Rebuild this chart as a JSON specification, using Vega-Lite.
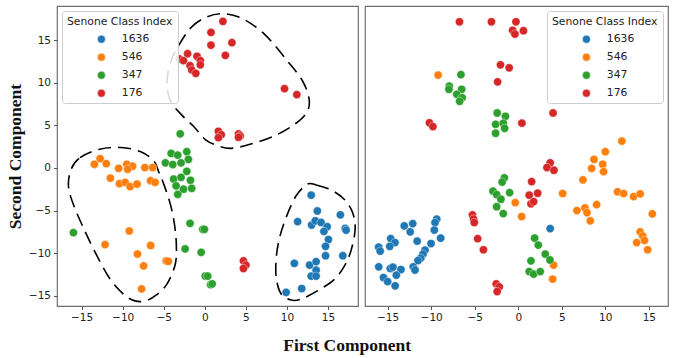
{
  "$schema": "https://vega.github.io/schema/vega-lite/v6.json",
  "padding": {"left": 5, "top": 5, "right": 10, "bottom": 5},
  "bounds": "flush",
  "spacing": 7,
  "background": "white",
  "config": {
    "view": {"stroke": "#707070", "strokeWidth": 1.2},
    "axis": {
      "labelFont": "DejaVu Sans", "labelFontSize": 10.5, "labelColor": "#222222",
      "tickColor": "#444444", "tickSize": 3.5, "tickWidth": 0.9, "domain": false, "grid": false,
      "labelPadding": 3,
      "titleFont": "Liberation Serif", "titleFontWeight": "bold", "titleFontSize": 17.5, "titleColor": "#111111"
    },
    "legend": {
      "padding": 5, "fillColor": "rgba(255,255,255,0.85)", "strokeColor": "#cccccc", "cornerRadius": 3,
      "titleFont": "DejaVu Sans", "titleFontSize": 10.8, "titleFontWeight": "normal", "titleColor": "#222222", "titlePadding": 7,
      "labelFont": "DejaVu Sans", "labelFontSize": 10.8, "labelColor": "#222222",
      "symbolSize": 62, "symbolOffset": 29, "labelOffset": 15, "rowPadding": 6,
      "symbolType": "circle", "symbolStrokeColor": "white", "symbolStrokeWidth": 0.4, "offset": 5
    }
  },
  "title": {"text": "First Component", "orient": "bottom", "anchor": "middle", "font": "Liberation Serif", "fontSize": 17.5, "fontWeight": "bold", "color": "#111111", "offset": 13, "dx": 10},
  "datasets": {
    "outline": [
      {"g": "a", "i": 1, "x": -16.3, "y": -0.2}, {"g": "a", "i": 2, "x": -15.2, "y": 1.2}, {"g": "a", "i": 3, "x": -12.8, "y": 2.2},
      {"g": "a", "i": 4, "x": -10.2, "y": 2.4}, {"g": "a", "i": 5, "x": -7.8, "y": 1.9}, {"g": "a", "i": 6, "x": -6.2, "y": 0.8},
      {"g": "a", "i": 7, "x": -5.6, "y": -0.5}, {"g": "a", "i": 8, "x": -5.0, "y": -1.9}, {"g": "a", "i": 9, "x": -4.2, "y": -4.25},
      {"g": "a", "i": 10, "x": -3.7, "y": -6.6}, {"g": "a", "i": 11, "x": -3.47, "y": -9.0}, {"g": "a", "i": 12, "x": -3.6, "y": -11.3},
      {"g": "a", "i": 13, "x": -4.6, "y": -13.6}, {"g": "a", "i": 14, "x": -5.9, "y": -14.9}, {"g": "a", "i": 15, "x": -7.2, "y": -15.6},
      {"g": "a", "i": 16, "x": -8.5, "y": -15.6}, {"g": "a", "i": 17, "x": -9.8, "y": -14.9}, {"g": "a", "i": 18, "x": -11.5, "y": -13.1},
      {"g": "a", "i": 19, "x": -13.3, "y": -10.0}, {"g": "a", "i": 20, "x": -14.8, "y": -7.0}, {"g": "a", "i": 21, "x": -16.0, "y": -4.3},
      {"g": "a", "i": 22, "x": -16.6, "y": -2.2},
      {"g": "b", "i": 1, "x": -3.1, "y": 14.5}, {"g": "b", "i": 2, "x": -1.7, "y": 16.45}, {"g": "b", "i": 3, "x": -0.05, "y": 17.6},
      {"g": "b", "i": 4, "x": 2.0, "y": 18.1}, {"g": "b", "i": 5, "x": 4.4, "y": 17.6}, {"g": "b", "i": 6, "x": 7.25, "y": 15.7},
      {"g": "b", "i": 7, "x": 10.1, "y": 12.5}, {"g": "b", "i": 8, "x": 11.9, "y": 10.2}, {"g": "b", "i": 9, "x": 12.7, "y": 8.05},
      {"g": "b", "i": 10, "x": 12.4, "y": 6.5}, {"g": "b", "i": 11, "x": 10.9, "y": 5.1}, {"g": "b", "i": 12, "x": 8.45, "y": 3.75},
      {"g": "b", "i": 13, "x": 5.6, "y": 2.8}, {"g": "b", "i": 14, "x": 3.2, "y": 2.3}, {"g": "b", "i": 15, "x": 1.6, "y": 2.6},
      {"g": "b", "i": 16, "x": 0.1, "y": 3.3}, {"g": "b", "i": 17, "x": -1.3, "y": 4.8}, {"g": "b", "i": 18, "x": -2.8, "y": 6.2},
      {"g": "b", "i": 19, "x": -4.2, "y": 7.9}, {"g": "b", "i": 20, "x": -4.6, "y": 10.2}, {"g": "b", "i": 21, "x": -4.1, "y": 12.6},
      {"g": "c", "i": 1, "x": 12.5, "y": -1.9}, {"g": "c", "i": 2, "x": 13.55, "y": -2.0}, {"g": "c", "i": 3, "x": 15.4, "y": -2.6},
      {"g": "c", "i": 4, "x": 17.0, "y": -3.7}, {"g": "c", "i": 5, "x": 18.0, "y": -5.25}, {"g": "c", "i": 6, "x": 18.3, "y": -7.2},
      {"g": "c", "i": 7, "x": 17.8, "y": -9.7}, {"g": "c", "i": 8, "x": 17.0, "y": -11.5}, {"g": "c", "i": 9, "x": 15.8, "y": -13.05},
      {"g": "c", "i": 10, "x": 13.75, "y": -14.4}, {"g": "c", "i": 11, "x": 11.7, "y": -15.4}, {"g": "c", "i": 12, "x": 10.5, "y": -15.5},
      {"g": "c", "i": 13, "x": 9.3, "y": -14.8}, {"g": "c", "i": 14, "x": 8.7, "y": -12.9}, {"g": "c", "i": 15, "x": 8.7, "y": -10.5},
      {"g": "c", "i": 16, "x": 9.1, "y": -8.2}, {"g": "c", "i": 17, "x": 9.9, "y": -5.8}, {"g": "c", "i": 18, "x": 11.1, "y": -3.3}
    ],
    "left": [
      {"c": "1636", "x": 12.95, "y": -3.2}, {"c": "1636", "x": 13.7, "y": -5.05}, {"c": "1636", "x": 11.3, "y": -6.3},
      {"c": "1636", "x": 13.0, "y": -6.7}, {"c": "1636", "x": 13.45, "y": -6.2}, {"c": "1636", "x": 14.15, "y": -6.4},
      {"c": "1636", "x": 14.9, "y": -6.9}, {"c": "1636", "x": 14.5, "y": -7.45}, {"c": "1636", "x": 16.5, "y": -5.5},
      {"c": "1636", "x": 17.1, "y": -7.1}, {"c": "1636", "x": 17.2, "y": -7.3}, {"c": "1636", "x": 15.05, "y": -8.4},
      {"c": "1636", "x": 14.7, "y": -9.2}, {"c": "1636", "x": 14.7, "y": -10.3}, {"c": "1636", "x": 16.8, "y": -10.3},
      {"c": "1636", "x": 10.9, "y": -11.2}, {"c": "1636", "x": 12.75, "y": -11.4}, {"c": "1636", "x": 13.55, "y": -11.0},
      {"c": "1636", "x": 13.55, "y": -12.0}, {"c": "1636", "x": 12.95, "y": -12.7}, {"c": "1636", "x": 13.55, "y": -12.7},
      {"c": "1636", "x": 11.8, "y": -14.15}, {"c": "1636", "x": 9.9, "y": -14.6},
      {"c": "546", "x": -12.75, "y": 1.1}, {"c": "546", "x": -13.45, "y": 0.43}, {"c": "546", "x": -12.0, "y": 0.5},
      {"c": "546", "x": -10.5, "y": -0.05}, {"c": "546", "x": -9.5, "y": 0.43}, {"c": "546", "x": -8.8, "y": 0.2},
      {"c": "546", "x": -9.4, "y": -0.15}, {"c": "546", "x": -7.3, "y": 0.05}, {"c": "546", "x": -6.35, "y": 0.05},
      {"c": "546", "x": -11.5, "y": -1.2}, {"c": "546", "x": -10.4, "y": -1.85}, {"c": "546", "x": -9.7, "y": -1.7},
      {"c": "546", "x": -9.1, "y": -2.2}, {"c": "546", "x": -8.25, "y": -1.9}, {"c": "546", "x": -6.6, "y": -1.5},
      {"c": "546", "x": -6.05, "y": -1.7}, {"c": "546", "x": -9.2, "y": -7.4}, {"c": "546", "x": -12.15, "y": -9.0},
      {"c": "546", "x": -8.2, "y": -10.1}, {"c": "546", "x": -6.6, "y": -9.1}, {"c": "546", "x": -7.45, "y": -11.5},
      {"c": "546", "x": -4.7, "y": -10.9}, {"c": "546", "x": -4.45, "y": -10.95}, {"c": "546", "x": -7.7, "y": -14.2},
      {"c": "347", "x": -3.0, "y": 4.0}, {"c": "347", "x": -4.1, "y": 1.7}, {"c": "347", "x": -3.3, "y": 1.5},
      {"c": "347", "x": -2.2, "y": 1.9}, {"c": "347", "x": -2.0, "y": 1.0}, {"c": "347", "x": -4.8, "y": 0.6},
      {"c": "347", "x": -3.9, "y": 0.4}, {"c": "347", "x": -2.9, "y": 0.6}, {"c": "347", "x": -2.2, "y": -0.4},
      {"c": "347", "x": -3.8, "y": -1.3}, {"c": "347", "x": -2.9, "y": -1.1}, {"c": "347", "x": -1.75, "y": -1.45},
      {"c": "347", "x": -3.5, "y": -2.1}, {"c": "347", "x": -2.6, "y": -2.5}, {"c": "347", "x": -3.3, "y": -3.1},
      {"c": "347", "x": -1.6, "y": -2.4}, {"c": "347", "x": -16.0, "y": -7.6}, {"c": "347", "x": -1.8, "y": -6.5},
      {"c": "347", "x": -0.25, "y": -7.2}, {"c": "347", "x": -0.05, "y": -7.2}, {"c": "347", "x": -2.4, "y": -9.5},
      {"c": "347", "x": -0.45, "y": -9.9}, {"c": "347", "x": 0.05, "y": -12.7}, {"c": "347", "x": 0.35, "y": -12.7},
      {"c": "347", "x": 0.7, "y": -13.7}, {"c": "347", "x": 0.9, "y": -13.6},
      {"c": "176", "x": 2.2, "y": 17.2}, {"c": "176", "x": 0.75, "y": 15.9}, {"c": "176", "x": 0.75, "y": 14.4},
      {"c": "176", "x": 3.3, "y": 14.7}, {"c": "176", "x": 2.5, "y": 13.2}, {"c": "176", "x": -2.1, "y": 13.4},
      {"c": "176", "x": -3.1, "y": 12.8}, {"c": "176", "x": -2.6, "y": 12.6}, {"c": "176", "x": -0.95, "y": 13.1},
      {"c": "176", "x": -0.55, "y": 12.6}, {"c": "176", "x": -0.55, "y": 12.1}, {"c": "176", "x": -1.8, "y": 12.0},
      {"c": "176", "x": -1.6, "y": 11.5}, {"c": "176", "x": -1.1, "y": 11.1}, {"c": "176", "x": 9.7, "y": 9.3},
      {"c": "176", "x": 11.2, "y": 8.6}, {"c": "176", "x": 1.65, "y": 4.3}, {"c": "176", "x": 2.0, "y": 3.9},
      {"c": "176", "x": 1.65, "y": 3.55}, {"c": "176", "x": 4.1, "y": 4.0}, {"c": "176", "x": 4.3, "y": 3.75},
      {"c": "176", "x": 4.1, "y": 3.6}, {"c": "176", "x": 4.7, "y": -10.9}, {"c": "176", "x": 5.0, "y": -11.4},
      {"c": "176", "x": 4.7, "y": -11.8}
    ],
    "right": [
      {"c": "1636", "x": -9.36, "y": -6.01}, {"c": "1636", "x": -9.56, "y": -6.41}, {"c": "1636", "x": -9.64, "y": -7.29},
      {"c": "1636", "x": -8.91, "y": -8.24}, {"c": "1636", "x": -10.02, "y": -8.87}, {"c": "1636", "x": -10.71, "y": -9.65},
      {"c": "1636", "x": -10.94, "y": -10.12}, {"c": "1636", "x": -11.2, "y": -10.59}, {"c": "1636", "x": -11.52, "y": -10.87},
      {"c": "1636", "x": -12.12, "y": -6.53}, {"c": "1636", "x": -13.09, "y": -6.8}, {"c": "1636", "x": -12.41, "y": -7.5},
      {"c": "1636", "x": -11.61, "y": -8.59}, {"c": "1636", "x": -14.65, "y": -8.29}, {"c": "1636", "x": -14.16, "y": -8.76},
      {"c": "1636", "x": -14.76, "y": -9.2}, {"c": "1636", "x": -16.03, "y": -9.3}, {"c": "1636", "x": -15.86, "y": -9.77},
      {"c": "1636", "x": -16.02, "y": -11.6}, {"c": "1636", "x": -14.7, "y": -11.8}, {"c": "1636", "x": -14.39, "y": -11.64},
      {"c": "1636", "x": -13.47, "y": -11.92}, {"c": "1636", "x": -14.0, "y": -12.58}, {"c": "1636", "x": -12.06, "y": -11.6},
      {"c": "1636", "x": -11.86, "y": -11.98}, {"c": "1636", "x": -15.48, "y": -12.86}, {"c": "1636", "x": -15.0, "y": -13.34},
      {"c": "1636", "x": -14.14, "y": -13.83}, {"c": "1636", "x": 3.67, "y": -7.12},
      {"c": "546", "x": -9.2, "y": 10.9}, {"c": "546", "x": 11.9, "y": 3.15}, {"c": "546", "x": 10.0, "y": 1.9},
      {"c": "546", "x": 8.7, "y": 1.0}, {"c": "546", "x": 9.7, "y": 0.43}, {"c": "546", "x": 8.43, "y": -0.06},
      {"c": "546", "x": 9.8, "y": -0.43}, {"c": "546", "x": 7.43, "y": -1.4}, {"c": "546", "x": -0.34, "y": -4.07},
      {"c": "546", "x": 0.39, "y": -5.7}, {"c": "546", "x": 5.1, "y": -3.0}, {"c": "546", "x": 9.0, "y": -4.3},
      {"c": "546", "x": 7.66, "y": -4.7}, {"c": "546", "x": 7.9, "y": -5.25}, {"c": "546", "x": 6.74, "y": -5.0},
      {"c": "546", "x": 8.27, "y": -6.2}, {"c": "546", "x": 11.4, "y": -2.8}, {"c": "546", "x": 12.1, "y": -3.0},
      {"c": "546", "x": 13.25, "y": -3.36}, {"c": "546", "x": 14.0, "y": -3.05}, {"c": "546", "x": 15.4, "y": -5.4},
      {"c": "546", "x": 14.0, "y": -7.5}, {"c": "546", "x": 14.3, "y": -7.97}, {"c": "546", "x": 14.5, "y": -8.5},
      {"c": "546", "x": 13.6, "y": -8.76}, {"c": "546", "x": 14.86, "y": -9.6}, {"c": "546", "x": 4.06, "y": -11.4},
      {"c": "546", "x": 3.95, "y": -13.05},
      {"c": "347", "x": -6.58, "y": 10.94}, {"c": "347", "x": -7.92, "y": 9.6}, {"c": "347", "x": -7.96, "y": 9.23},
      {"c": "347", "x": -6.5, "y": 9.23}, {"c": "347", "x": -7.06, "y": 8.64}, {"c": "347", "x": -6.44, "y": 8.24},
      {"c": "347", "x": -6.73, "y": 7.82}, {"c": "347", "x": -2.42, "y": 6.45}, {"c": "347", "x": -1.47, "y": 6.06},
      {"c": "347", "x": -2.6, "y": 5.12}, {"c": "347", "x": -1.72, "y": 5.24}, {"c": "347", "x": -1.56, "y": 4.65},
      {"c": "347", "x": -2.6, "y": 4.07}, {"c": "347", "x": -1.6, "y": -1.17}, {"c": "347", "x": -1.85, "y": -1.66},
      {"c": "347", "x": -2.9, "y": -2.73}, {"c": "347", "x": -2.48, "y": -3.13}, {"c": "347", "x": -1.99, "y": -3.67},
      {"c": "347", "x": -0.99, "y": -2.9}, {"c": "347", "x": -2.48, "y": -4.55}, {"c": "347", "x": -1.72, "y": -5.36},
      {"c": "347", "x": 1.88, "y": -8.24}, {"c": "347", "x": 2.3, "y": -9.06}, {"c": "347", "x": 3.1, "y": -10.1},
      {"c": "347", "x": 3.64, "y": -10.8}, {"c": "347", "x": 1.46, "y": -10.9}, {"c": "347", "x": 1.26, "y": -12.16},
      {"c": "347", "x": 1.77, "y": -12.46}, {"c": "347", "x": 2.53, "y": -12.16},
      {"c": "176", "x": -6.75, "y": 17.15}, {"c": "176", "x": -3.08, "y": 17.15}, {"c": "176", "x": -0.26, "y": 17.15},
      {"c": "176", "x": -0.64, "y": 16.15}, {"c": "176", "x": -0.38, "y": 15.7}, {"c": "176", "x": 0.6, "y": 16.1},
      {"c": "176", "x": -2.04, "y": 12.1}, {"c": "176", "x": -1.04, "y": 11.75}, {"c": "176", "x": -2.37, "y": 10.1},
      {"c": "176", "x": -10.2, "y": 5.3}, {"c": "176", "x": -9.8, "y": 4.85}, {"c": "176", "x": 0.42, "y": 5.25},
      {"c": "176", "x": 4.0, "y": 6.45}, {"c": "176", "x": 3.67, "y": 0.6}, {"c": "176", "x": 3.3, "y": 0.05},
      {"c": "176", "x": 4.1, "y": -0.27}, {"c": "176", "x": 1.54, "y": -1.6}, {"c": "176", "x": 1.26, "y": -3.2},
      {"c": "176", "x": 2.23, "y": -2.97}, {"c": "176", "x": 1.46, "y": -4.2}, {"c": "176", "x": 1.77, "y": -3.95},
      {"c": "176", "x": -5.26, "y": -5.5}, {"c": "176", "x": -5.14, "y": -6.0}, {"c": "176", "x": -5.05, "y": -6.4},
      {"c": "176", "x": -4.66, "y": -8.3}, {"c": "176", "x": -4.0, "y": -9.6}, {"c": "176", "x": -2.53, "y": -13.6},
      {"c": "176", "x": -2.18, "y": -13.95}, {"c": "176", "x": -2.42, "y": -14.5}
    ]
  },
  "resolve": {"scale": {"color": "independent", "x": "independent", "y": "independent"}, "legend": {"color": "independent"}},
  "hconcat": [
    {
      "width": 301, "height": 300,
      "layer": [
        {
          "data": {"name": "outline"},
          "mark": {"type": "line", "interpolate": "cardinal-closed", "stroke": "black", "strokeWidth": 1.6, "strokeDash": [13, 7]},
          "encoding": {
            "x": {"field": "x", "type": "quantitative", "scale": {"domain": [-18, 18.65], "nice": false, "zero": false}, "axis": {"title": null, "values": [-15, -10, -5, 0, 5, 10, 15]}},
            "y": {"field": "y", "type": "quantitative", "scale": {"domain": [-16.2, 19.0], "nice": false, "zero": false}, "axis": {"title": "Second Component", "values": [-15, -10, -5, 0, 5, 10, 15], "titlePadding": 4}},
            "detail": {"field": "g"},
            "order": {"field": "i", "type": "quantitative"}
          }
        },
        {
          "data": {"name": "left"},
          "mark": {"type": "point", "filled": true, "size": 68, "stroke": "white", "strokeWidth": 0.4, "opacity": 1},
          "encoding": {
            "x": {"field": "x", "type": "quantitative"},
            "y": {"field": "y", "type": "quantitative"},
            "color": {"field": "c", "type": "nominal", "title": "Senone Class Index",
              "scale": {"domain": ["1636", "546", "347", "176"], "range": ["#1f77b4", "#ff7f0e", "#2ca02c", "#d62728"]},
              "legend": {"orient": "top-left"}}
          }
        }
      ]
    },
    {
      "width": 303, "height": 300,
      "data": {"name": "right"},
      "mark": {"type": "point", "filled": true, "size": 68, "stroke": "white", "strokeWidth": 0.4, "opacity": 1},
      "encoding": {
        "x": {"field": "x", "type": "quantitative", "scale": {"domain": [-17.6, 17.2], "nice": false, "zero": false}, "axis": {"title": null, "values": [-15, -10, -5, 0, 5, 10, 15]}},
        "y": {"field": "y", "type": "quantitative", "scale": {"domain": [-16.2, 19.0], "nice": false, "zero": false}, "axis": null},
        "color": {"field": "c", "type": "nominal", "title": "Senone Class Index",
          "scale": {"domain": ["1636", "546", "347", "176"], "range": ["#1f77b4", "#ff7f0e", "#2ca02c", "#d62728"]},
          "legend": {"orient": "top-right"}}
      }
    }
  ]
}
